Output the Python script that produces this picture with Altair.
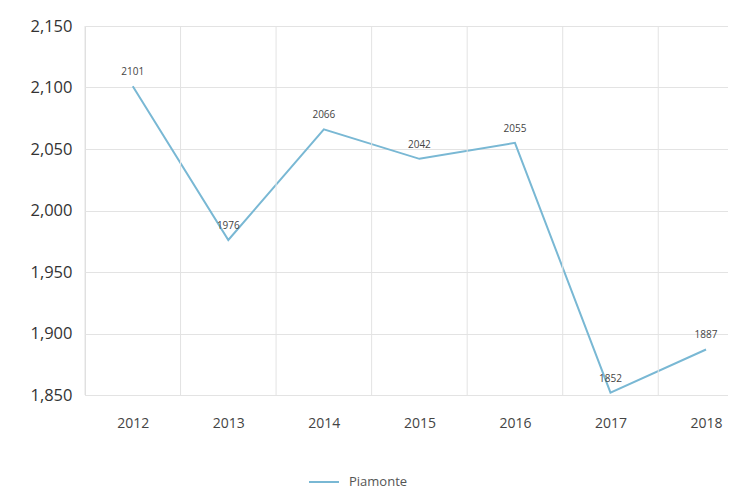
import altair as alt
import pandas as pd

years = [2012, 2013, 2014, 2015, 2016, 2017, 2018]
values = [2101, 1976, 2066, 2042, 2055, 1852, 1887]
series = "Piamonte"
y_ticks = [1850, 1900, 1950, 2000, 2050, 2100, 2150]

df = pd.DataFrame({"year": years, "value": values, "series": [series] * len(years)})
grid_df = pd.DataFrame({"year": years})

FONT = "Open Sans"
LINE_COLOR = "#79b8d4"

x_scale = alt.Scale(domain=[2011.5, 2018.23], nice=False, zero=False)
y_scale = alt.Scale(domain=[1850, 2150], nice=False, zero=False)

x_axis = alt.Axis(values=years, format="d", grid=False, domain=False, ticks=False,
                  labelFontSize=14, labelColor="#444444", labelPadding=21, title=None,
                  labelFont=FONT)
y_axis = alt.Axis(values=y_ticks, format=",d", grid=True, gridColor="#e3e3e3",
                  domain=False, ticks=False, labelFontSize=16.5, labelColor="#333333",
                  labelPadding=13, title=None, labelFont=FONT)

line = alt.Chart(df).mark_line(strokeWidth=2).encode(
    x=alt.X("year:Q", scale=x_scale, axis=x_axis),
    y=alt.Y("value:Q", scale=y_scale, axis=y_axis),
    color=alt.Color("series:N", scale=alt.Scale(range=[LINE_COLOR]),
                    legend=alt.Legend(title=None, orient="none", legendX=223, legendY=440,
                                      symbolType="stroke", symbolSize=900, symbolStrokeWidth=2,
                                      labelFontSize=13, labelColor="#555555", labelFont=FONT,
                                      labelOffset=9))
)

vgrid = alt.Chart(grid_df).transform_calculate(
    edge="datum.year - 0.5"
).mark_rule(color="#e3e3e3", strokeWidth=1).encode(
    x=alt.X("edge:Q", scale=x_scale)
)

labels = alt.Chart(df).mark_text(dy=-14, fontSize=10, color="#444444", font=FONT).encode(
    x=alt.X("year:Q", scale=x_scale),
    y=alt.Y("value:Q", scale=y_scale),
    text=alt.Text("value:Q", format="d")
)

chart = alt.layer(line, vgrid, labels).properties(
    width=643, height=369,
    autosize=alt.AutoSizeParams(type="none"),
    padding={"left": 77, "top": 18, "right": 0, "bottom": 94}
).configure_view(stroke=None).configure(background="white")

chart.save("out.html", embed_options={"renderer": "svg", "actions": False})
